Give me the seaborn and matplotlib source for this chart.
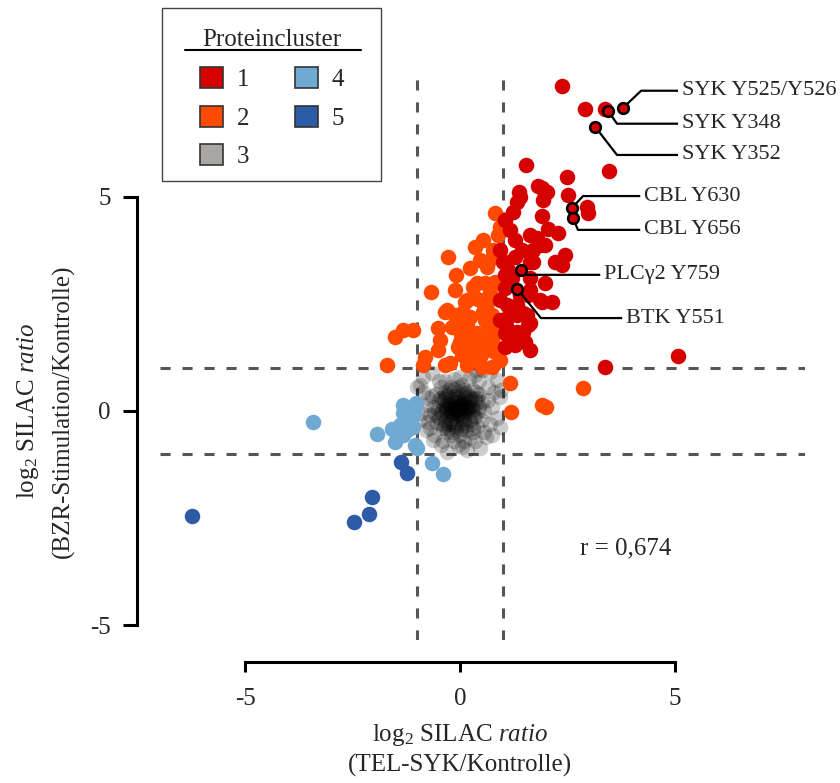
import matplotlib
matplotlib.use("Agg")
import matplotlib.pyplot as plt
from matplotlib.patches import Patch, Rectangle
from matplotlib.lines import Line2D
import pandas as pd
import seaborn as sns

# ---------------------------------------------------------------------------
# log2 SILAC ratios per phosphosite: x = TEL-SYK/Kontrolle, y = BZR-Stimulation/Kontrolle
# ---------------------------------------------------------------------------
cluster1_x = [2.37, 2.91, 3.37, 3.47, 2.49, 2.51, 2.02, 1.91, 2.95, 2.98,
              1.53, 1.81, 1.37, 1.33, 1.93, 1.91, 1.23, 1.05, 1.16, 2.05,
              2.28, 1.63, 1.79, 1.98, 1.70, 2.44, 2.37, 1.28, 1.70, 1.05,
              1.98, 1.63, 1.16, 1.91, 2.14, 1.47, 1.16, 1.63, 1.05, 1.47,
              1.05, 1.63, 1.05, 3.37, 1.16, 5.07, 1.40, 1.86, 1.63, 1.05,
              1.63, 1.58, 1.09, 1.33, 1.09, 1.33, 1.56, 1.09, 1.33, 1.58,
              2.21, 0.93, 1.00, 1.28, 1.44, 0.93, 0.93, 1.28, 1.86, 1.21,
              1.40, 1.12, 1.52]
cluster1_y = [7.59, 7.06, 7.06, 5.61, 5.47, 5.05, 5.12, 5.21, 4.77, 4.63,
              5.75, 5.26, 5.12, 4.88, 4.93, 4.56, 4.65, 4.46, 4.23, 4.25,
              4.16, 4.11, 4.04, 3.88, 3.76, 3.64, 3.41, 3.60, 3.48, 3.18,
              2.99, 2.83, 2.99, 2.55, 2.55, 2.29, 2.43, 2.06, 2.06, 1.85,
              1.82, 1.43, 1.50, 1.03, 1.66, 1.29, 5.00, 3.88, 3.48, 2.87,
              3.11, 2.71, 2.48, 2.48, 2.17, 2.24, 2.24, 1.94, 1.85, 2.01,
              3.48, 3.76, 3.48, 4.00, 3.76, 2.59, 2.13, 1.54, 2.59, 3.10,
              2.70, 3.30, 1.62]

cluster2_x = [0.81, 0.53, 0.35, -0.28, -0.09, 0.23, 0.47, -0.67, 0.16, -0.30,
              -0.12, -0.51, -1.09, -1.33, -1.51, -0.47, -0.51, -0.81, -0.86, -1.70,
              -0.35, -0.23, -0.05, 0.05, 0.12, 0.23, 0.40, 0.47, 0.58, 0.63,
              0.70, 0.23, 0.47, 0.58, 0.63, 0.77, 0.70, 0.86, 0.30, 0.88,
              0.40, 0.81, 0.12, 0.35, 0.77, -0.35, 0.07, 0.53, 0.74, -0.07,
              0.16, 0.65, 0.00, 0.23, 0.47, 0.74, 0.07, 0.30, 0.53, 0.81,
              0.16, 0.51, 0.74, 0.93, 0.98, 0.74, 0.93, 1.16, 2.86, 1.91,
              2.00, 1.19, -0.12, -0.18, 0.02]
cluster2_y = [4.63, 4.00, 3.83, 3.60, 3.18, 3.34, 3.53, 2.78, 2.59, 2.36,
              2.24, 1.94, 1.89, 1.89, 1.73, 1.66, 1.43, 1.26, 1.07, 1.07,
              1.07, 1.12, 1.50, 1.31, 1.66, 2.20, 1.82, 2.59, 2.99, 2.36,
              1.66, 1.19, 1.26, 2.13, 3.36, 3.76, 2.76, 1.96, 2.90, 4.11,
              2.99, 3.01, 2.55, 2.64, 2.64, 2.31, 2.31, 2.31, 2.24, 2.01,
              2.01, 1.94, 1.61, 1.71, 1.61, 1.66, 1.38, 1.38, 1.38, 1.38,
              1.07, 1.03, 1.03, 1.19, 3.53, 3.57, 4.30, 0.65, 0.54, 0.14,
              0.09, -0.02, 2.83, 1.95, 1.80]

cluster3_x = [-0.10, 0.00, -0.20, 0.10, -0.05, 0.05, -0.15, 0.15, -0.25, 0.20,
              -0.30, 0.25, -0.10, 0.10, -0.35, 0.30, -0.05, 0.00, -0.20, 0.20,
              -0.40, 0.35, -0.15, 0.05, -0.30, 0.10, -0.45, 0.40, -0.25, 0.25,
              -0.50, 0.45, -0.05, -0.35, 0.30, -0.55, 0.15, -0.10, -0.40, 0.40,
              -0.60, 0.55, -0.20, 0.05, -0.45, 0.50, -0.30, 0.00, 0.30, -0.55,
              -0.12, 0.02, -0.08, 0.08, -0.18, -0.02, 0.12, -0.22, 0.18, -0.28,
              -0.15, 0.05, -0.08, 0.22, -0.32, 0.28, -0.12, 0.12, -0.38, -0.20,
              -0.06, -0.14, 0.04, -0.24, 0.14, -0.04, -0.16, 0.06, -0.26, 0.16,
              -0.10, -0.02, -0.18, 0.10, -0.30, 0.02, -0.22, -0.08, 0.18, -0.36,
              -0.70, -0.65, -0.70, 0.65, 0.70, -0.50, 0.45, 0.20, -0.15, -0.60,
              0.55, -0.40, 0.10, -0.15, 0.35, 0.80, -0.80, -0.75, 0.65, -0.35,
              0.00, 0.35, -0.85, 0.75, -0.93, -0.65, 0.86, 0.93, 0.23, -0.30,
              -0.63, 0.47, 0.16, -0.93, 0.86, 0.93, -1.00, -0.86, 0.70, 0.50,
              -0.80, 0.60, 0.75, -0.75, -0.05, 0.05, -0.45, 0.38, -0.90, 0.95,
              -0.45, -0.35, -0.25, -0.15, -0.05, 0.05, 0.15, 0.25, 0.35, 0.45,
              -0.48, -0.38, -0.28, -0.18, -0.08, 0.02, 0.12, 0.22, 0.32, 0.42,
              -0.42, -0.32, -0.22, -0.12, -0.02, 0.08, 0.18, 0.28, 0.38, -0.52,
              -0.55, -0.45, -0.35, -0.25, 0.30, 0.40, 0.50, -0.60, -0.20, 0.10]
cluster3_y = [0.05, 0.10, 0.00, 0.00, -0.10, 0.20, 0.20, 0.15, -0.10, -0.05,
              0.15, 0.25, -0.25, -0.20, -0.20, 0.05, 0.30, -0.05, 0.30, 0.35,
              0.05, -0.15, -0.35, -0.35, 0.35, 0.40, -0.05, 0.20, -0.30, -0.30,
              0.25, 0.40, 0.45, 0.45, 0.50, -0.25, -0.45, -0.45, -0.40, -0.35,
              0.10, 0.00, 0.55, 0.60, 0.55, -0.20, -0.50, -0.55, -0.50, 0.40,
              0.12, 0.02, -0.02, 0.08, 0.08, 0.18, -0.10, -0.18, 0.22, 0.22,
              -0.12, -0.18, 0.22, 0.10, -0.02, -0.02, 0.35, 0.30, 0.28, -0.25,
              0.04, 0.14, 0.16, 0.06, 0.06, -0.06, -0.04, 0.26, 0.16, 0.02,
              0.20, 0.12, 0.10, 0.14, 0.04, -0.12, -0.08, 0.06, 0.10, 0.12,
              -0.10, 0.35, -0.40, 0.25, -0.30, 0.70, 0.70, 0.75, 0.75, -0.55,
              -0.50, -0.70, -0.70, -0.70, -0.70, 0.45, 0.15, -0.25, 0.55, 0.70,
              0.80, 0.85, 0.45, -0.55, 0.61, 0.89, 0.72, -0.37, -0.63, -0.96,
              -0.67, -0.86, -0.91, -0.21, -0.16, 0.33, 0.56, 0.79, 0.90, 0.95,
              -0.45, -0.60, 0.10, 0.30, -0.80, -0.85, -0.80, 0.95, -0.05, 0.50,
              0.30, 0.38, 0.48, 0.52, 0.55, 0.45, 0.42, 0.30, 0.28, 0.10,
              -0.15, -0.28, -0.40, -0.50, -0.38, -0.42, -0.32, -0.22, -0.12, 0.00,
              0.20, 0.05, -0.05, 0.00, 0.10, -0.28, 0.05, 0.12, 0.45, 0.05,
              -0.10, -0.30, -0.35, 0.40, -0.40, 0.30, 0.20, -0.05, -0.55, 0.50]

cluster4_x = [-3.42, -1.93, -1.58, -1.33, -1.02, -1.07, -1.40, -1.21, -1.09, -1.51,
              -1.33, -1.05, -1.00, -1.23, -0.65, -0.40, -1.16, -1.33]
cluster4_y = [-0.26, -0.54, -0.42, 0.14, 0.19, -0.05, -0.33, -0.26, -0.37, -0.72,
              -0.56, -0.79, -0.86, -0.44, -1.21, -1.47, -0.14, -0.05]

cluster5_x = [-1.37, -1.23, -2.05, -2.12, -2.47, -6.23]
cluster5_y = [-1.19, -1.45, -2.01, -2.41, -2.59, -2.45]

# labelled phosphosites
site_names = ["SYK Y525/Y526", "SYK Y348", "SYK Y352", "CBL Y630", "CBL Y656",
              "PLCγ2 Y759", "BTK Y551"]
site_x = [3.79, 3.44, 3.14, 2.60, 2.63, 1.42, 1.33]
site_y = [7.08, 7.01, 6.64, 4.74, 4.51, 3.29, 2.85]

cluster_names = ["1", "2", "3", "4", "5"]
cluster_colors = ["#d50000", "#ff4a00", "#aaa6a4", "#70a9d2", "#2d5ba6"]

correlation_text = "r = 0,674"

# ---------------------------------------------------------------------------
sns.set_theme(style="white")
plt.rcParams["font.family"] = ["Liberation Serif", "DejaVu Serif"]
plt.rcParams["mathtext.fontset"] = "custom"
plt.rcParams["mathtext.rm"] = "Liberation Serif"
plt.rcParams["mathtext.it"] = "Liberation Serif:italic"

W, H = 840, 783
fig = plt.figure(figsize=(W / 100, H / 100), dpi=100)
ax = fig.add_axes([0.1905, 0.1826, 0.7679, 0.7305])

frames = []
for name, xs, ys in [("3", cluster3_x, cluster3_y), ("4", cluster4_x, cluster4_y),
                     ("5", cluster5_x, cluster5_y), ("2", cluster2_x, cluster2_y),
                     ("1", cluster1_x, cluster1_y)]:
    frames.append(pd.DataFrame({"x": xs, "y": ys, "cluster": name}))
df = pd.concat(frames, ignore_index=True)

# threshold lines at |log2 ratio| = 1
for v in (-1, 1):
    ax.axvline(v, color="#555555", lw=2.2, ls=(0, (3.3, 3.9)), zorder=1)
    ax.axhline(v, color="#555555", lw=2.2, ls=(0, (3.3, 3.9)), zorder=1)

dot = 125
sns.scatterplot(data=df[df.cluster == "3"], x="x", y="y", color="black",
                alpha=0.2, s=dot, linewidth=0, ax=ax, zorder=2, legend=False)
for name in ["4", "5", "2", "1"]:
    col = cluster_colors[cluster_names.index(name)]
    sns.scatterplot(data=df[df.cluster == name], x="x", y="y", color=col,
                    s=dot, linewidth=0, ax=ax, zorder=3, legend=False)

# highlighted sites with leader lines
sites = pd.DataFrame({"x": site_x, "y": site_y, "name": site_names})
sns.scatterplot(data=sites, x="x", y="y", color=cluster_colors[0], s=60,
                edgecolor="black", linewidth=1.8, ax=ax, zorder=5, legend=False)

label_y = [7.48, 6.71, 5.98, 5.02, 4.23, 3.18, 2.17]
elbow_x = [4.21, 3.65, 3.65, 2.86, 2.74, 1.53, 1.88]
line_end_x = [5.07, 5.07, 5.07, 4.19, 4.19, 3.26, 3.77]
for px, py, ly, ex, lx, nm in zip(site_x, site_y, label_y, elbow_x, line_end_x, site_names):
    ax.plot([px, ex, lx], [py, ly, ly], color="black", lw=1.6, zorder=4,
            solid_capstyle="butt", clip_on=False)
    ax.text(lx + 0.09, ly, nm, fontsize=16, va="center", ha="left", clip_on=False)

ax.text(3.86, -3.2, correlation_text, fontsize=18, ha="center", va="center")

ax.set_xlim(-6.977, 8.023)
ax.set_ylim(-5.35, 8.01)
ax.set_xticks([-5, 0, 5])
ax.set_yticks([-5, 0, 5])
ax.set_xticklabels(["-5", "0", "5"])
ax.set_yticklabels(["-5", "0", "5"])

for side in ("top", "right"):
    ax.spines[side].set_visible(False)
ax.spines["left"].set_position(("outward", 16.6))
ax.spines["bottom"].set_position(("outward", 15.8))
ax.spines["left"].set_bounds(-5, 5)
ax.spines["bottom"].set_bounds(-5, 5)
for side in ("left", "bottom"):
    ax.spines[side].set_linewidth(2.2)
    ax.spines[side].set_color("black")
ax.tick_params(axis="y", which="major", direction="out", length=10, width=2.2,
               color="black", labelsize=18, pad=9, left=True)
ax.tick_params(axis="x", which="major", direction="out", length=7.5, width=2.2,
               color="black", labelsize=18, pad=11, bottom=True)

ax.set_xlabel("log$_2$ SILAC $\\it{ratio}$\n(TEL-SYK/Kontrolle)", fontsize=18,
              linespacing=1.35)
ax.set_ylabel("log$_2$ SILAC $\\it{ratio}$\n(BZR-Stimulation/Kontrolle)", fontsize=18,
              linespacing=1.6)
ax.xaxis.set_label_coords(0.465, -0.143)
ax.yaxis.set_label_coords(-0.132, 0.40)

# cluster legend: framed box with an underlined title
handles = [Patch(facecolor=c, edgecolor="#333333", linewidth=1.2, label=n)
           for n, c in zip(cluster_names, cluster_colors)]
leg = fig.legend(handles=handles, title="Proteincluster", ncol=2, loc="upper center",
                 bbox_to_anchor=(272 / W, 1 - 29 / H), borderaxespad=0,
                 fontsize=18, title_fontsize=18, frameon=False,
                 handlelength=0.92, handleheight=0.92, handletextpad=0.55,
                 labelspacing=0.58, columnspacing=1.8, borderpad=0.0)
leg._legend_box.align = "center"
leg._legend_box.sep = 11.5
fig.add_artist(Rectangle((162 / W, 1 - 181 / H), 219 / W, 173 / H, fill=False,
                         edgecolor="#444444", lw=1.0, transform=fig.transFigure))
fig.add_artist(Line2D([185 / W, 361 / W], [1 - 50 / H, 1 - 50 / H],
                      color="black", lw=1.5, transform=fig.transFigure))

fig.savefig("out.png", dpi=100)
